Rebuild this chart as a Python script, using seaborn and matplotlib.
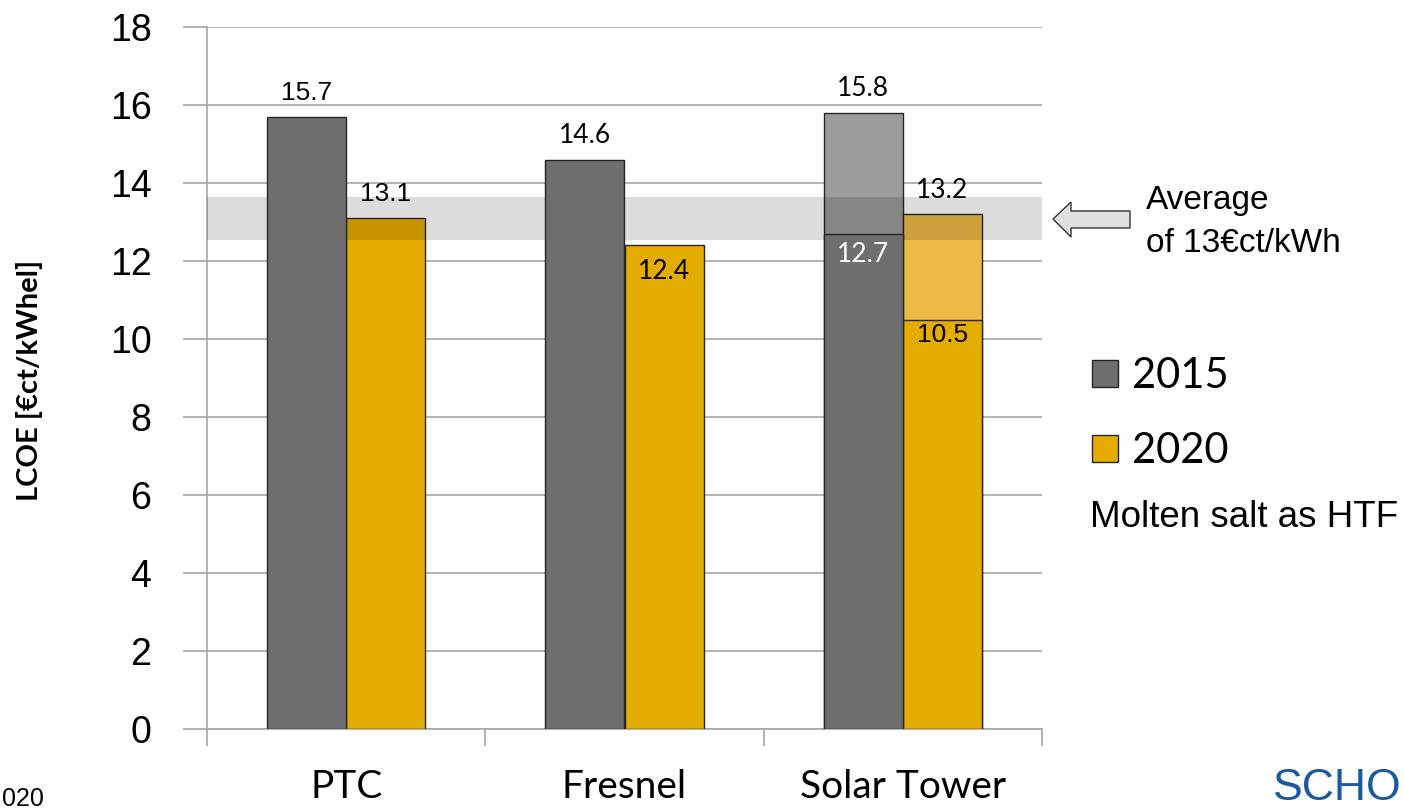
import numpy as np
import pandas as pd
import matplotlib
matplotlib.use("Agg")
import matplotlib.pyplot as plt
from matplotlib.patches import Patch, Polygon
import seaborn as sns

# ---- data -------------------------------------------------------------
technologies = ["PTC", "Fresnel", "Solar Tower"]
years = ["2015", "2020"]
lcoe_2015 = [15.7, 14.6, 15.8]
lcoe_2020 = [13.1, 12.4, 13.2]
# Solar tower with molten salt as heat transfer fluid
molten_salt_tech = "Solar Tower"
molten_salt_2015 = 12.7
molten_salt_2020 = 10.5
average_band = (12.55, 13.65)
y_ticks = [0, 2, 4, 6, 8, 10, 12, 14, 16, 18]

# ---- styling ----------------------------------------------------------
sns.set_theme(style="white")
plt.rcParams["font.family"] = ["Liberation Sans", "DejaVu Sans"]
plt.rcParams["text.color"] = "black"
plt.rcParams["xtick.color"] = "black"
plt.rcParams["ytick.color"] = "black"
plt.rcParams["axes.labelcolor"] = "black"
CAL = ["Lato", "DejaVu Sans"]

C15 = "#6e6e6e"
C20 = "#e5ac00"
C15_LIGHT = "#9c9c9c"
C20_LIGHT = "#edbb45"
GRID = "#a6a6a6"
EDGE = "#262626"

df = pd.DataFrame({
    "tech": technologies * 2,
    "year": [years[0]] * 3 + [years[1]] * 3,
    "lcoe": lcoe_2015 + lcoe_2020,
})
df_ms = pd.DataFrame({
    "tech": [molten_salt_tech, molten_salt_tech],
    "year": years,
    "lcoe": [molten_salt_2015, molten_salt_2020],
})

fig = plt.figure(figsize=(14.04, 8.11), dpi=100)
ax = fig.add_axes([207 / 1404, 1 - 729 / 811, (1042 - 207) / 1404, (729 - 27) / 811])

palette = {years[0]: C15, years[1]: C20}
sns.barplot(data=df, x="tech", y="lcoe", hue="year", order=technologies,
            hue_order=years, palette=palette, width=0.57, ax=ax,
            edgecolor=EDGE, linewidth=1.0, saturation=1, legend=False,
            errorbar=None, zorder=3)

# lighter upper part for the solar tower bars; dark 2015 bars sit above the band
tower_idx = technologies.index(molten_salt_tech)
patches = list(ax.patches)
for i in range(len(technologies)):
    if i == tower_idx:
        patches[i].set_facecolor(C15_LIGHT)
    else:
        patches[i].set_zorder(6)
patches[3 + tower_idx].set_facecolor(C20_LIGHT)

# molten salt portion drawn on top
n_before = len(ax.patches)
sns.barplot(data=df_ms, x="tech", y="lcoe", hue="year", order=technologies,
            hue_order=years, palette=palette, width=0.57, ax=ax,
            edgecolor=EDGE, linewidth=1.0, saturation=1, legend=False,
            errorbar=None, zorder=4)
for p in list(ax.patches)[n_before:]:
    if abs(p.get_facecolor()[0] - matplotlib.colors.to_rgba(C15)[0]) < 0.01:
        p.set_zorder(6)

# average band (darkening overlay)
ax.axhspan(average_band[0], average_band[1], color="black", alpha=0.137,
           lw=0, zorder=5)

# axes, grid, ticks
ax.set_xlim(-0.5, 2.5)
ax.set_ylim(0, 18)
ax.set_yticks(y_ticks)
ax.set_yticklabels([str(t) for t in y_ticks], fontsize=27, color="black")
ax.yaxis.grid(True, color=GRID, lw=1.2, zorder=0)
ax.set_axisbelow(True)
ax.tick_params(axis="y", length=17, width=1.2, color=GRID, pad=23, left=True)
ax.set_xticks([-0.5, 0.5, 1.5, 2.5])
ax.set_xticklabels([])
ax.set_xticks([0, 1, 2], minor=True)
ax.set_xticklabels(technologies, minor=True, fontsize=28, family=CAL)
ax.tick_params(axis="x", which="major", length=12, width=1.2, color=GRID, bottom=True)
ax.tick_params(axis="x", which="minor", length=0, pad=29)
for s in ["top", "right"]:
    ax.spines[s].set_visible(False)
for s in ["left", "bottom"]:
    ax.spines[s].set_color(GRID)
    ax.spines[s].set_linewidth(1.2)
ax.set_xlabel("")
ax.set_ylabel("")

# value labels
off = 0.3
half = 0.57 / 4
for i, tech in enumerate(technologies):
    x15, x20 = i - half, i + half
    ax.text(x15, lcoe_2015[i] + off, f"{lcoe_2015[i]:.1f}", ha="center", va="bottom",
            fontsize=19, zorder=7, family=CAL if i else None)
    if tech == "Fresnel":
        ax.text(x20, lcoe_2020[i] - 0.35, f"{lcoe_2020[i]:.1f}", ha="center", va="top",
                fontsize=19, zorder=7, family=CAL)
    else:
        ax.text(x20, lcoe_2020[i] + off, f"{lcoe_2020[i]:.1f}", ha="center", va="bottom",
                fontsize=19, zorder=7, family=CAL if i else None)
ax.text(tower_idx - half, molten_salt_2015 - 0.2, f"{molten_salt_2015:.1f}", ha="center",
        va="top", fontsize=19, color="white", zorder=7, family=CAL)
ax.text(tower_idx + half, molten_salt_2020 - 0.1, f"{molten_salt_2020:.1f}", ha="center",
        va="top", fontsize=19, zorder=7)

# y axis label
fig.text(30 / 1404, 1 - 380 / 811, "LCOE [€ct/kWhel]", rotation=90, ha="center",
         va="center", fontsize=21, fontweight="bold", family=CAL)

# arrow pointing to the average band
pts = [(1053, 219), (1071, 202), (1071, 211), (1130, 211), (1130, 228),
       (1071, 228), (1071, 237)]
arrow = Polygon([(x / 1404, 1 - y / 811) for x, y in pts], closed=True,
                transform=fig.transFigure, facecolor="#e0e0e0", edgecolor="#333333",
                lw=1.0)
fig.patches.append(arrow)
fig.text(1146 / 1404, 1 - 209 / 811, "Average", fontsize=24, va="baseline")
fig.text(1146 / 1404, 1 - 252 / 811, "of 13€ct/kWh", fontsize=24, va="baseline")

# legend
handles = [Patch(facecolor=C15, edgecolor=EDGE, lw=1), Patch(facecolor=C20, edgecolor=EDGE, lw=1)]
leg = fig.legend(handles, years, loc="upper left", bbox_to_anchor=(1092 / 1404, 1 - 357 / 811),
                 frameon=False, prop={"family": CAL, "size": 30}, handlelength=0.62,
                 handleheight=0.62, handletextpad=0.35, labelspacing=0.9,
                 borderaxespad=0, borderpad=0)
fig.text(1090 / 1404, 1 - 527 / 811, "Molten salt as HTF", fontsize=26.5, va="baseline")

# footer
fig.text(2 / 1404, 1 - 806 / 811, "020", fontsize=18, ha="left", va="baseline")
fig.text(1402 / 1404, 1 - 809 / 811, "SCHO", fontsize=32, color="#1b5aa0",
         va="bottom", ha="right")

fig.savefig("out.png", dpi=100)
